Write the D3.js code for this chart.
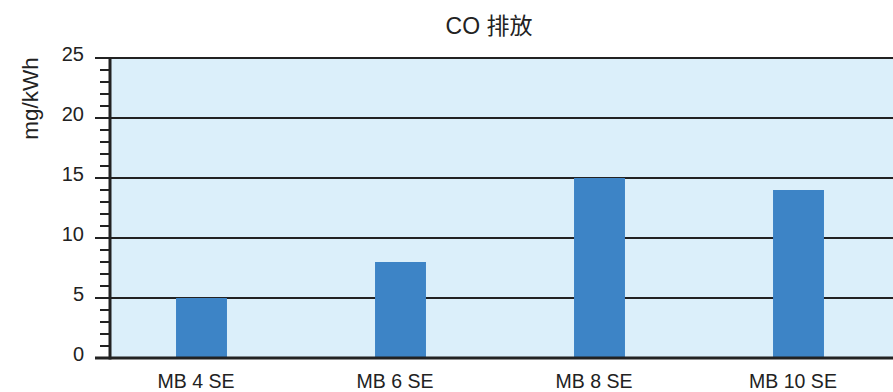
<!DOCTYPE html>
<html>
<head>
<meta charset="utf-8">
<script src="https://cdn.jsdelivr.net/npm/d3@7"></script>
<style>
  body { margin: 0; background: #fff; }
  text { font-family: "Liberation Sans", Arial, "Noto Sans CJK SC", sans-serif; fill: #222; }
</style>
</head>
<body>
<div id="chart"></div>
<script>
var categories = ["MB 4 SE", "MB 6 SE", "MB 8 SE", "MB 10 SE"];
var values = [5, 8, 15, 14];
var yTicks = [0, 5, 10, 15, 20, 25];
var minorTicks = [1, 2, 3, 4, 6, 7, 8, 9, 11, 12, 13, 14, 16, 17, 18, 19, 21, 22, 23, 24];

var width = 893, height = 392;
var plotLeft = 110, plotRight = 893, plotTop = 58, plotBottom = 358;

var svg = d3.select("#chart").append("svg")
  .attr("width", width)
  .attr("height", height);

var x = d3.scaleBand()
  .domain(categories)
  .range([102, 898])
  .paddingInner(0.744)
  .paddingOuter(0.372);

var y = d3.scaleLinear()
  .domain([0, 25])
  .range([plotBottom, plotTop]);

// plot background
svg.append("rect")
  .attr("x", plotLeft).attr("y", plotTop)
  .attr("width", plotRight - plotLeft).attr("height", plotBottom - plotTop)
  .attr("fill", "#dbeffa");

// gridlines (extend left as major ticks)
svg.selectAll("line.grid")
  .data(yTicks)
  .enter().append("line")
  .attr("class", "grid")
  .attr("x1", 95).attr("x2", plotRight)
  .attr("y1", function(d) { return y(d); })
  .attr("y2", function(d) { return y(d); })
  .attr("stroke", "#222")
  .attr("stroke-width", 2);

// minor ticks
svg.selectAll("line.minor")
  .data(minorTicks)
  .enter().append("line")
  .attr("class", "minor")
  .attr("x1", 100).attr("x2", plotLeft)
  .attr("y1", function(d) { return y(d); })
  .attr("y2", function(d) { return y(d); })
  .attr("stroke", "#222")
  .attr("stroke-width", 2);

// bars
svg.selectAll("rect.bar")
  .data(values)
  .enter().append("rect")
  .attr("class", "bar")
  .attr("x", function(d, i) { return x(categories[i]); })
  .attr("width", x.bandwidth())
  .attr("y", function(d) { return y(d); })
  .attr("height", function(d) { return y(0) - y(d); })
  .attr("fill", "#3d84c6");

// baseline + y axis line
svg.append("line")
  .attr("x1", 95).attr("x2", plotRight)
  .attr("y1", y(0)).attr("y2", y(0))
  .attr("stroke", "#222").attr("stroke-width", 3);
svg.append("line")
  .attr("x1", plotLeft).attr("x2", plotLeft)
  .attr("y1", plotTop - 1).attr("y2", plotBottom + 1.5)
  .attr("stroke", "#222").attr("stroke-width", 3);

// y tick labels
svg.selectAll("text.ytick")
  .data(yTicks)
  .enter().append("text")
  .attr("class", "ytick")
  .attr("x", 84)
  .attr("y", function(d) { return y(d) + 2.5; })
  .attr("text-anchor", "end")
  .attr("font-size", 20)
  .text(function(d) { return d; });

// x labels (sit slightly left of bar centres, as in the original)
svg.selectAll("text.xlab")
  .data(categories)
  .enter().append("text")
  .attr("class", "xlab")
  .attr("x", function(d) { return x(d) + x.bandwidth() / 2 - 5.5; })
  .attr("y", 388)
  .attr("text-anchor", "middle")
  .attr("font-size", 19.5)
  .text(function(d) { return d; });

// title
svg.append("text")
  .attr("x", 489).attr("y", 34)
  .attr("text-anchor", "middle")
  .attr("font-size", 23)
  .text("CO 排放");

// y axis title
svg.append("text")
  .attr("transform", "translate(38,98.5) rotate(-90)")
  .attr("text-anchor", "middle")
  .attr("font-size", 22.5)
  .text("mg/kWh");
</script>
</body>
</html>
